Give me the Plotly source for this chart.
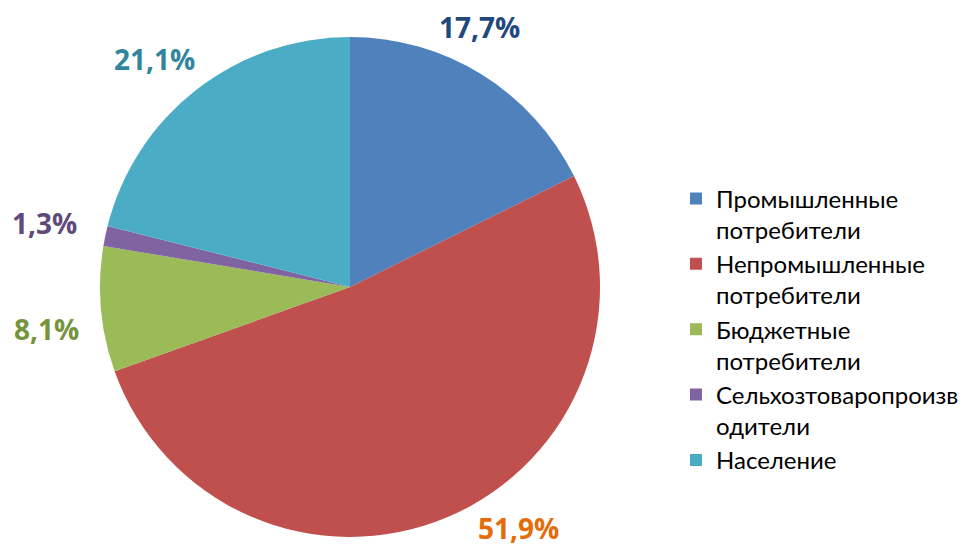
import math
import plotly.graph_objects as go

categories = ["Промышленные потребители", "Непромышленные потребители", "Бюджетные потребители",
              "Сельхозтоваропроизводители", "Население"]
legend_labels = ["Промышленные<br>потребители", "Непромышленные<br>потребители", "Бюджетные<br>потребители",
                 "Сельхозтоваропроизв<br>одители", "Население"]
values = [17.7, 51.9, 8.1, 1.3, 21.1]
value_labels = ["17,7%", "51,9%", "8,1%", "1,3%", "21,1%"]

slice_colors = ["#4F81BD", "#C0504D", "#9BBB59", "#8064A2", "#4BACC6"]
label_colors = ["#1F497D", "#E46C0A", "#77933C", "#604A7B", "#31859C"]
# pixel nudges of each label from the rim point at its slice's middle angle
label_shift = [(-2, -48), (71, 11), (-54, 20), (-61, -13), (-42, -31)]

W, H = 965, 547
cx, cy, R = 350, 287, 250  # pie centre / radius in pixels (layout)

fig = go.Figure(go.Pie(
    labels=legend_labels, values=values, sort=False, direction="clockwise", rotation=0,
    marker=dict(colors=slice_colors, line=dict(width=0)),
    textinfo="none", hoverinfo="label+percent",
    domain=dict(x=[(cx - R) / W, (cx + R) / W], y=[(H - cy - R) / H, (H - cy + R) / H]),
))

total = sum(values)
cum = 0
for v, txt, col, (sx, sy) in zip(values, value_labels, label_colors, label_shift):
    mid = (cum + v / 2) / total * 2 * math.pi
    cum += v
    px = cx + R * math.sin(mid)
    py = cy - R * math.cos(mid)
    fig.add_annotation(x=px / W, y=1 - py / H, xref="paper", yref="paper", text=txt, showarrow=False,
                       xanchor="center", yanchor="middle", xshift=sx, yshift=-sy,
                       font=dict(family="Open Sans", size=28, color=col, weight="bold"))

fig.update_layout(
    width=W, height=H, margin=dict(l=0, r=0, t=0, b=0),
    paper_bgcolor="white", plot_bgcolor="white",
    legend=dict(x=0.7005, y=0.398, xanchor="left", yanchor="middle", valign="top",
                font=dict(family="Lato", size=24, color="#000000"), itemwidth=30),
    font=dict(family="Open Sans"),
)
fig.write_html("out.html", config={"displayModeBar": False},
               post_script="document.body.style.margin='0';")
